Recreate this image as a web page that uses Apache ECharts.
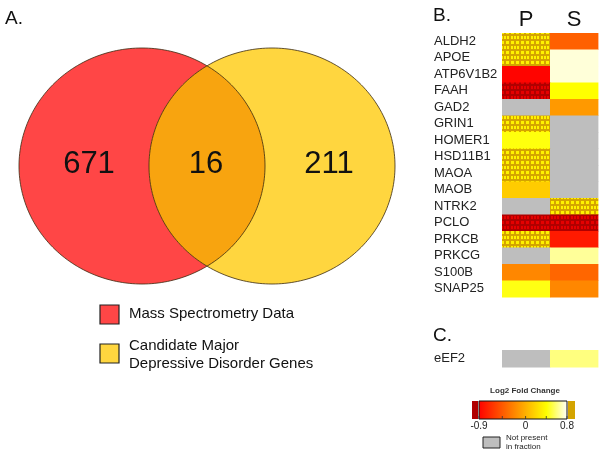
<!DOCTYPE html>
<html><head><meta charset="utf-8">
<script src="https://cdn.jsdelivr.net/npm/echarts@6/dist/echarts.min.js"></script>
<style>html,body{margin:0;padding:0;background:#fff}#c{width:602px;height:457px}</style>
</head><body><div id="c"></div>
<script>
// ---------- data ----------
const vennSets = ['Mass Spectrometry Data', 'Candidate Major\nDepressive Disorder Genes'];
const vennCounts = [671, 16, 211]; // only MS, both, only MDD candidates
const fractions = ['P', 'S'];
const genes = ['ALDH2','APOE','ATP6V1B2','FAAH','GAD2','GRIN1','HOMER1','HSD11B1','MAOA','MAOB','NTRK2','PCLO','PRKCB','PRKCG','S100B','SNAP25'];
// log2 fold change; null = not present in fraction; >0.8 / <-0.9 are beyond scale
const valuesP = [1.2, 1.2, -0.88, -1.2, null, 1.2, 0.42, 1.2, 1.2, 0.14, null, -1.2, 1.2, null, -0.21, 0.43];
const valuesS = [-0.41, 0.74, 0.74, 0.40, -0.12, null, null, null, null, null, 1.2, -1.2, -0.77, 0.64, -0.38, -0.21];
const genesC = ['eEF2'];
const valuesCP = [null];
const valuesCS = [0.60];
const scaleMin = -0.9, scaleMid = 0, scaleMax = 0.8;
const scaleMinorTicks = [-0.45, 0.4];

// ---------- colours ----------
const FONT = 'Liberation Sans, Arial, sans-serif';
const GRAY = '#BEBEBE';
function heat(v) {
  if (v <= 0.4) { const t = Math.max(0, (v + 0.9) / 1.3); return 'rgb(255,' + Math.round(255 * t) + ',0)'; }
  const t = Math.min(1, (v - 0.4) / 0.4); return 'rgb(255,255,' + Math.round(255 * t) + ')';
}
function makePattern(base, dot) {
  const c = document.createElement('canvas'); c.width = 10; c.height = 10;
  const g = c.getContext('2d');
  g.fillStyle = base; g.fillRect(0, 0, 10, 10);
  g.fillStyle = dot;
  g.fillRect(1, 1, 3, 3); g.fillRect(6, 1, 3, 3);
  g.fillRect(1, 6, 2, 3); g.fillRect(4, 6, 2, 3); g.fillRect(7, 6, 2, 3);
  return { image: c, repeat: 'repeat' };
}
const highPat = makePattern('#D4A400', '#FFF200');
const lowPat = makePattern('#B00000', '#E60000');
function fillFor(v) {
  if (v === null || v === undefined) return GRAY;
  if (v > scaleMax) return highPat;
  if (v < scaleMin) return lowPat;
  return heat(v);
}

// ---------- venn geometry ----------
const L = { cx: 142, cy: 166, rx: 123, ry: 118 };
const R = { cx: 272, cy: 166, rx: 123, ry: 118 };
function ellipsePts(e, a0, a1, n) {
  const pts = [];
  for (let i = 0; i <= n; i++) { const a = a0 + (a1 - a0) * i / n; pts.push([e.cx + e.rx * Math.cos(a), e.cy + e.ry * Math.sin(a)]); }
  return pts;
}
const half = (R.cx - L.cx) / 2;
const thL = Math.acos(half / L.rx);
const lens = ellipsePts(L, -thL, thL, 80).concat(ellipsePts(R, Math.PI - thL, Math.PI + thL, 80));

const graphics = [
  { type: 'polygon', shape: { points: ellipsePts(L, 0, 2 * Math.PI, 240) }, style: { fill: '#FF4646', stroke: null } },
  { type: 'polygon', shape: { points: ellipsePts(R, 0, 2 * Math.PI, 240) }, style: { fill: '#FFD63F', stroke: null } },
  { type: 'polygon', shape: { points: lens }, style: { fill: '#F8A40F', stroke: null } },
  { type: 'polygon', shape: { points: ellipsePts(L, 0, 2 * Math.PI, 240) }, style: { fill: null, stroke: '#3a2a10', lineWidth: 0.8 } },
  { type: 'polygon', shape: { points: ellipsePts(R, 0, 2 * Math.PI, 240) }, style: { fill: null, stroke: '#3a2a10', lineWidth: 0.8 } },
  { type: 'text', x: 89, y: 164, style: { text: String(vennCounts[0]), font: '31px ' + FONT, fill: '#111', textAlign: 'center', textVerticalAlign: 'middle' } },
  { type: 'text', x: 206, y: 164, style: { text: String(vennCounts[1]), font: '31px ' + FONT, fill: '#111', textAlign: 'center', textVerticalAlign: 'middle' } },
  { type: 'text', x: 329, y: 164, style: { text: String(vennCounts[2]), font: '31px ' + FONT, fill: '#111', textAlign: 'center', textVerticalAlign: 'middle' } },
  // panel letters
  { type: 'text', x: 5, y: 19, style: { text: 'A.', font: '19px ' + FONT, fill: '#111', textVerticalAlign: 'middle' } },
  { type: 'text', x: 433, y: 16, style: { text: 'B.', font: '19px ' + FONT, fill: '#111', textVerticalAlign: 'middle' } },
  { type: 'text', x: 433, y: 336, style: { text: 'C.', font: '19px ' + FONT, fill: '#111', textVerticalAlign: 'middle' } },
  // venn legend
  { type: 'rect', shape: { x: 100, y: 305, width: 19, height: 19 }, style: { fill: '#FF4646', stroke: '#222', lineWidth: 1.2 } },
  { type: 'rect', shape: { x: 100, y: 344, width: 19, height: 19 }, style: { fill: '#FFD63F', stroke: '#222', lineWidth: 1.2 } },
  { type: 'text', x: 129, y: 314, style: { text: vennSets[0], font: '15px ' + FONT, fill: '#111', textVerticalAlign: 'middle' } },
  { type: 'text', x: 129, y: 355, style: { text: vennSets[1], font: '15px ' + FONT, fill: '#111', textVerticalAlign: 'middle', lineHeight: 18 } },
];

// colour scale legend
const barX0 = 479, barX1 = 567, barY = 401, barH = 18;
const sx = v => barX0 + (v - scaleMin) / (scaleMax - scaleMin) * (barX1 - barX0);
graphics.push(
  { type: 'text', x: 525, y: 391, style: { text: 'Log2 Fold Change', font: 'bold 8px ' + FONT, fill: '#333', textAlign: 'center', textVerticalAlign: 'middle' } },
  { type: 'rect', shape: { x: 472, y: barY, width: 6, height: barH }, style: { fill: '#B00000' } },
  { type: 'rect', shape: { x: 568, y: barY, width: 7, height: barH }, style: { fill: '#D4A400' } },
  { type: 'rect', shape: { x: barX0, y: barY, width: barX1 - barX0, height: barH }, style: {
      fill: { type: 'linear', x: 0, y: 0, x2: 1, y2: 0, colorStops: [
        { offset: 0, color: heat(scaleMin) }, { offset: (0.4 - scaleMin) / (scaleMax - scaleMin), color: heat(0.4) }, { offset: 1, color: heat(scaleMax) }] },
      stroke: '#111', lineWidth: 1 } }
);
[scaleMin, scaleMid, scaleMax].concat(scaleMinorTicks).forEach(v => {
  graphics.push({ type: 'line', shape: { x1: sx(v), y1: barY + barH - 3, x2: sx(v), y2: barY + barH }, style: { stroke: '#333', lineWidth: 0.8 } });
});
[scaleMin, scaleMid, scaleMax].forEach(v => {
  graphics.push({ type: 'text', x: sx(v), y: 426, style: { text: String(v), font: '10px ' + FONT, fill: '#222', textAlign: 'center', textVerticalAlign: 'middle' } });
});
graphics.push(
  { type: 'rect', shape: { x: 483, y: 437, width: 17, height: 11 }, style: { fill: GRAY, stroke: '#222', lineWidth: 1 } },
  { type: 'text', x: 506, y: 442, style: { text: 'Not present\nin fraction', font: '8px ' + FONT, fill: '#222', textVerticalAlign: 'middle', lineHeight: 9 } }
);

// ---------- heatmaps ----------
function cellData(rows) { const d = []; rows.forEach((g, yi) => fractions.forEach((f, xi) => d.push([xi, yi]))); return d; }
function renderer(cols) {
  return function (params, api) {
    const xi = api.value(0), yi = api.value(1);
    const p = api.coord([xi, yi]), s = api.size([1, 1]);
    return { type: 'rect', shape: { x: p[0] - s[0] / 2, y: p[1] - s[1] / 2, width: s[0] + 0.4, height: s[1] + 0.5 },
      style: { fill: fillFor(cols[xi][yi]) } };
  };
}
const chart = echarts.init(document.getElementById('c'), null, { renderer: 'canvas' });
chart.setOption({
  backgroundColor: '#fff',
  animation: false,
  graphic: { elements: graphics },
  grid: [
    { left: 502, top: 33, width: 96, height: 264 },
    { left: 502, top: 350, width: 96, height: 17 }
  ],
  xAxis: [
    { gridIndex: 0, type: 'category', data: fractions, position: 'top', axisLine: { show: false }, axisTick: { show: false },
      axisLabel: { fontSize: 22, fontFamily: FONT, color: '#111', margin: 2, interval: 0 } },
    { gridIndex: 1, type: 'category', data: fractions, show: false }
  ],
  yAxis: [
    { gridIndex: 0, type: 'category', data: genes, inverse: true, axisLine: { show: false }, axisTick: { show: false },
      axisLabel: { fontSize: 13, fontFamily: FONT, color: '#222', align: 'left', margin: 68, interval: 0 } },
    { gridIndex: 1, type: 'category', data: genesC, inverse: true, axisLine: { show: false }, axisTick: { show: false },
      axisLabel: { fontSize: 13, fontFamily: FONT, color: '#222', align: 'left', margin: 68, interval: 0 } }
  ],
  series: [
    { type: 'custom', xAxisIndex: 0, yAxisIndex: 0, data: cellData(genes), renderItem: renderer([valuesP, valuesS]), silent: true },
    { type: 'custom', xAxisIndex: 1, yAxisIndex: 1, data: cellData(genesC), renderItem: renderer([valuesCP, valuesCS]), silent: true }
  ]
});
</script>
</body></html>
